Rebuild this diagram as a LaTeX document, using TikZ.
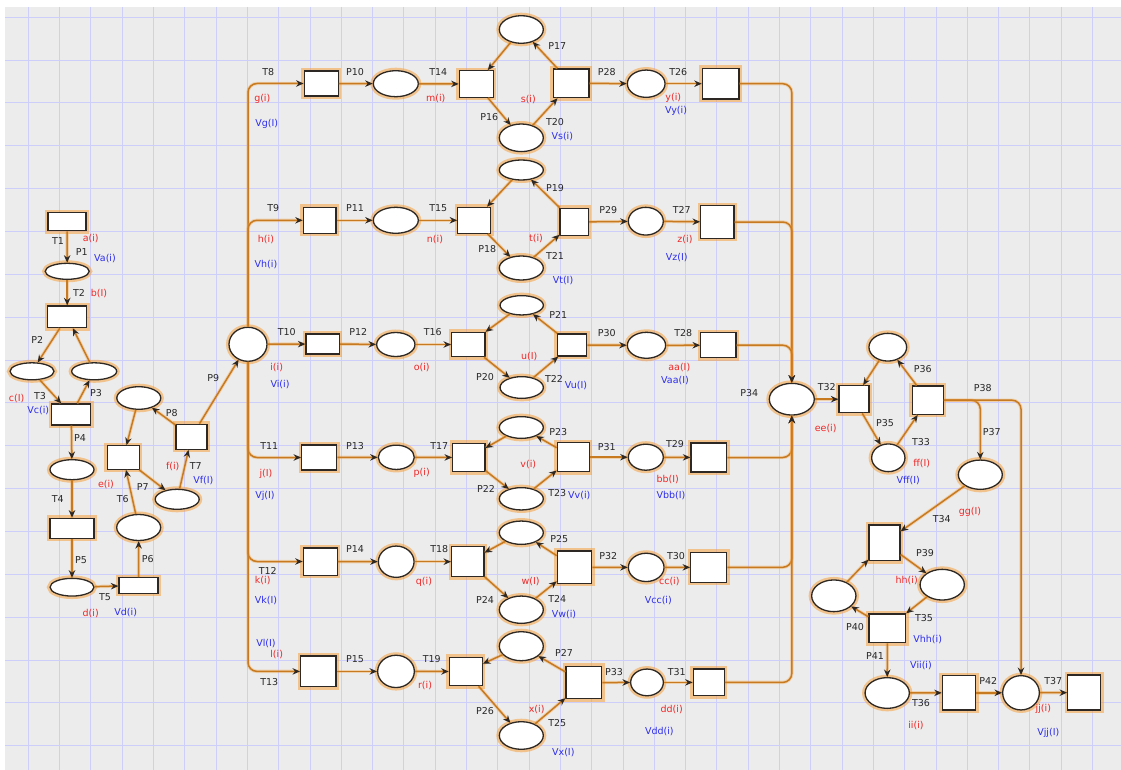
\documentclass[tikz,border=0pt]{standalone}
\usepackage{fontspec}
\setmainfont{DejaVu Sans}
\usetikzlibrary{shapes.geometric,arrows.meta}

\definecolor{bgc}{RGB}{236,236,236}
\definecolor{gridc}{RGB}{206,206,250}
\definecolor{arcc}{RGB}{200,122,32}
\definecolor{glowc}{RGB}{246,160,60}
\definecolor{edgec}{RGB}{45,40,35}
\definecolor{lblred}{RGB}{238,40,40}
\definecolor{lblblue}{RGB}{45,45,238}
\definecolor{lblblk}{RGB}{40,40,40}

\tikzset{
  glow/.style={preaction={draw=glowc,line width=6pt,opacity=0.55}},
  pnode/.style={ellipse,draw=edgec,line width=1.3pt,fill=white,inner sep=0pt,glow},
  tnode/.style={rectangle,draw=edgec,line width=1.3pt,fill=white,inner sep=0pt,glow},
  conn/.style={draw=arcc,line width=1.5pt,rounded corners=9pt,
    preaction={draw=glowc,line width=3.4pt,opacity=0.35,-},
    -{Stealth[length=7.5pt,width=6.5pt,inset=2.5pt,color=edgec]}},
  lb/.style={font=\fontsize{9.5}{10}\selectfont,text=lblblk,inner sep=0pt},
  lbr/.style={lb,text=lblred},
  lbb/.style={lb,text=lblblue},
}

\newcommand\mkP[5]{\node[pnode,minimum width=#4pt,minimum height=#5pt] (#1) at (#2,#3) {};}
\newcommand\mkT[5]{\node[tnode,minimum width=#4pt,minimum height=#5pt] (#1) at (#2,#3) {};}
\newcounter{labn}
\newcommand\lK[3]{\stepcounter{labn}\node[lb] (lab\thelabn) at (#1,#2) {#3};}
\newcommand\lR[3]{\stepcounter{labn}\node[lbr] (lab\thelabn) at (#1,#2) {#3};}
\newcommand\lB[3]{\stepcounter{labn}\node[lbb] (lab\thelabn) at (#1,#2) {#3};}

\begin{document}
\begin{tikzpicture}[x=1pt,y=-1pt]
\useasboundingbox (0,0) rectangle (1121,770);
% canvas and grid
\fill[white] (0,0) rectangle (1121,770);
\fill[bgc] (5,7) rectangle (1121,770);
\foreach \i in {0,...,35} \draw[gridc,line width=1pt] (28.3+31.3*\i,7) -- (28.3+31.3*\i,770);
\foreach \j in {0,...,17} \draw[gridc,line width=1pt] (5,17.3+42.85*\j) -- (1121,17.3+42.85*\j);

% ---------- left chain ----------
\mkT{t1}{67}{221.7}{38}{18}
\mkP{p1}{67.2}{271.3}{44}{16}
\mkT{t2}{67.2}{316.8}{39}{21.7}
\mkP{p2}{32}{371.3}{44}{17}
\mkP{p3}{94.2}{371.3}{45}{17}
\mkT{t3}{71.3}{414.5}{39}{21}
\mkP{p4}{72}{469.7}{44}{20}
\mkT{t4}{72}{528.3}{44}{20}
\mkP{p5}{72}{587.2}{44}{17.7}
\mkT{t5}{138.5}{585.5}{39}{15.7}
\mkP{p6}{138.7}{527.5}{44}{26}
\mkT{t6}{123.3}{457.5}{32}{23.6}
\mkP{p7}{177.2}{499.3}{44}{20}
\mkT{t7}{191.5}{436.8}{31}{25}
\mkP{p8}{138.8}{398}{44}{22.6}
\mkP{p9}{248}{344.3}{38}{34}

% ---------- row 1 ----------
\mkT{t8}{321.2}{83.5}{34}{25}
\mkP{p10}{395.8}{83.7}{45}{26}
\mkT{t14}{476.3}{84}{34}{26.6}
\mkP{p17}{521.3}{29.5}{44}{27.6}
\mkP{p16}{521.3}{137.8}{44}{27.6}
\mkT{t20}{571.2}{83.3}{35.7}{28.7}
\mkP{p28}{646.2}{83.7}{37.7}{27.3}
\mkT{t26}{720.7}{83.7}{36.7}{30.7}
% ---------- row 2 ----------
\mkT{t9}{319.7}{220.3}{32.7}{26}
\mkP{p11}{395.8}{220.3}{45}{26}
\mkT{t15}{474.3}{220.3}{33}{26}
\mkP{p19}{521.3}{170}{44}{20}
\mkP{p18}{521.3}{268}{44}{24}
\mkT{t21}{574.2}{222}{28.3}{27.3}
\mkP{p29}{645.8}{221.2}{35}{27.7}
\mkT{t27}{717.3}{222}{33.3}{32.6}
% ---------- row 3 ----------
\mkT{t10}{322.7}{344}{33.3}{20}
\mkP{p12}{395.8}{344.5}{38.3}{24}
\mkT{t16}{468.3}{344.5}{33.3}{24.3}
\mkP{p21}{521.7}{305.3}{43.3}{19.3}
\mkP{p20}{521.7}{387.5}{43.3}{21.7}
\mkT{t22}{572}{345}{29.3}{22}
\mkP{p30}{646.5}{345.3}{38.3}{26}
\mkT{t28}{718.3}{345.2}{35.3}{25}
% ---------- row 4 ----------
\mkT{t11}{319.2}{457.5}{35}{25}
\mkP{p13}{396.3}{457.3}{36}{24.3}
\mkT{t17}{468.8}{457.5}{32.3}{28.3}
\mkP{p23}{521.3}{427.5}{44}{21.7}
\mkP{p22}{521.3}{498.8}{44}{22.3}
\mkT{t23}{573.3}{457.2}{32}{29}
\mkP{p31}{645.8}{457.2}{35}{26}
\mkT{t29}{708.8}{457.5}{35.7}{29}
% ---------- row 5 ----------
\mkT{t12}{320.3}{561.5}{34}{27.3}
\mkP{p14}{396.2}{561.7}{35.7}{31.3}
\mkT{t18}{467.8}{561.7}{32.3}{30}
\mkP{p25}{521.3}{532.7}{44}{23.3}
\mkP{p24}{521.3}{609.7}{44}{27.3}
\mkT{t24}{574.5}{567.2}{34.3}{32.3}
\mkP{p32}{646.2}{567.4}{35.7}{28.3}
\mkT{t30}{708.7}{567.3}{36}{30}
% ---------- row 6 ----------
\mkT{t13}{318.3}{671.4}{35.3}{30.7}
\mkP{p15}{396}{671.4}{36.7}{32.3}
\mkT{t19}{465.8}{671.5}{33}{28.3}
\mkP{p27}{521.3}{646.2}{44}{29}
\mkP{p26}{521.3}{735.5}{44}{27.6}
\mkT{t25}{583.8}{682.6}{35.7}{32.3}
\mkP{p33}{647}{682.4}{32.7}{26.7}
\mkT{t31}{708.8}{682.4}{31}{26.7}
% ---------- right part ----------
\mkP{p34}{791.8}{399.2}{45}{31.7}
\mkT{t32}{854}{399.2}{30}{27}
\mkP{p36}{887.8}{347.2}{37.7}{27.7}
\mkP{p35}{888.3}{457.8}{33.3}{27.7}
\mkT{t33}{927.8}{400.2}{31}{28.3}
\mkP{p37}{980.3}{474.7}{44}{29.3}
\mkT{t34}{884.5}{542.8}{31}{35.7}
\mkP{p39}{942.2}{584.7}{44.3}{30.7}
\mkP{p40}{833.8}{595.8}{44.3}{31.7}
\mkT{t35}{887.3}{628.3}{36.7}{28.7}
\mkP{p41}{887.2}{693}{44.3}{30.7}
\mkT{t36}{959}{692.8}{33.3}{34.3}
\mkP{p42}{1021}{692.8}{36.7}{34.3}
\mkT{t37}{1084.2}{692.6}{33}{35}

% ---------- arcs: left chain ----------
\draw[conn] (t1) -- (p1);
\draw[conn] (p1) -- (t2);
\draw[conn] (t2) -- (p2);
\draw[conn] (p3) -- (t2);
\draw[conn] (p2) -- (t3);
\draw[conn] (t3) -- (p3);
\draw[conn] (t3) -- (p4);
\draw[conn] (p4) -- (t4);
\draw[conn] (t4) -- (p5);
\draw[conn] (p5) -- (t5);
\draw[conn] (t5) -- (p6);
\draw[conn] (p6) -- (t6);
\draw[conn] (t6) -- (p7);
\draw[conn] (p7) -- (t7);
\draw[conn] (t7) -- (p8);
\draw[conn] (p8) -- (t6);
\draw[conn] (t7) -- (p9);

% ---------- arcs: fan-out from P9 ----------
\draw[conn] (p9) |- (t8);
\draw[conn] (p9) |- (t9);
\draw[conn] (p9) -- (t10);
\draw[conn] (p9) |- (t11);
\draw[conn] (p9) |- (t12);
\draw[conn] (p9) |- (t13);

% ---------- arcs: six parallel branches ----------
\foreach \ta/\pa/\tb/\pu/\pd/\tc/\pb/\td in {
  t8/p10/t14/p17/p16/t20/p28/t26,
  t9/p11/t15/p19/p18/t21/p29/t27,
  t10/p12/t16/p21/p20/t22/p30/t28,
  t11/p13/t17/p23/p22/t23/p31/t29,
  t12/p14/t18/p25/p24/t24/p32/t30,
  t13/p15/t19/p27/p26/t25/p33/t31}{
  \draw[conn] (\ta) -- (\pa);
  \draw[conn] (\pa) -- (\tb);
  \draw[conn] (\tb) -- (\pd);
  \draw[conn] (\pd) -- (\tc);
  \draw[conn] (\tc) -- (\pu);
  \draw[conn] (\pu) -- (\tb);
  \draw[conn] (\tc) -- (\pb);
  \draw[conn] (\pb) -- (\td);
  \draw[conn] (\td) -| (p34);
}

% ---------- arcs: right part ----------
\draw[conn] (p34) -- (t32);
\draw[conn] (t32) -- (p35);
\draw[conn] (p35) -- (t33);
\draw[conn] (t33) -- (p36);
\draw[conn] (p36) -- (t32);
\draw[conn] (t33) -| (p37);
\draw[conn] (t33) -| (p42);
\draw[conn] (p37) -- (t34);
\draw[conn] (t34) -- (p39);
\draw[conn] (p39) -- (t35);
\draw[conn] (t35) -- (p40);
\draw[conn] (p40) -- (t34);
\draw[conn] (t35) -- (p41);
\draw[conn] (p41) -- (t36);
\draw[conn] (t36) -- (p42);
\draw[conn] (p42) -- (t37);

% ---------- labels: left chain ----------
\lK{58}{240.7}{T1} \lR{90.7}{239}{a(i)} \lK{81.7}{252.3}{P1} \lB{105}{259}{Va(i)}
\lK{79}{293.3}{T2} \lR{99}{293.3}{b(I)}
\lK{37.3}{340}{P2}
\lR{16.7}{399}{c(I)} \lK{40}{395.7}{T3} \lB{38.3}{410.7}{Vc(i)} \lK{96}{393.3}{P3}
\lK{80}{438.3}{P4} \lK{57.7}{499.3}{T4} \lK{81}{560}{P5}
\lK{105}{596.7}{T5} \lR{90.7}{613.3}{d(i)} \lB{125.7}{612.3}{Vd(i)}
\lK{147.7}{559.3}{P6} \lK{122.7}{499.3}{T6} \lR{106}{484.3}{e(i)} \lK{142.7}{487.3}{P7}
\lR{172.7}{466.7}{f(i)} \lK{195.7}{465.7}{T7} \lB{203.3}{481}{Vf(I)}
\lK{171.7}{412.7}{P8} \lK{213.3}{377.7}{P9}

% ---------- labels: row 1 ----------
\lK{268.3}{71.7}{T8} \lR{262.3}{99.3}{g(i)} \lB{266.7}{124.3}{Vg(I)}
\lK{355}{71.7}{P10} \lK{438.3}{71.7}{T14} \lR{435.7}{99}{m(i)}
\lK{489.3}{116.7}{P16} \lK{557.3}{46}{P17} \lR{528.3}{99.3}{s(i)}
\lK{555}{121.7}{T20} \lB{562.3}{136.7}{Vs(i)}
\lK{606.7}{71.7}{P28} \lK{678.3}{71.7}{T26} \lR{673.3}{98.3}{y(i)} \lB{676}{111}{Vy(i)}
% ---------- labels: row 2 ----------
\lK{273.3}{208.3}{T9} \lR{266}{239.3}{h(i)} \lB{266}{265}{Vh(i)}
\lK{355}{208.3}{P11} \lK{438.3}{208.3}{T15} \lR{435}{239.3}{n(i)}
\lK{487.3}{249.3}{P18} \lK{555}{187.7}{P19} \lR{536}{238.3}{t(i)}
\lK{555}{256}{T21} \lB{563}{281}{Vt(I)}
\lK{608.3}{210}{P29} \lK{681.7}{210}{T27} \lR{685}{239.3}{z(i)} \lB{676.7}{257.7}{Vz(I)}
% ---------- labels: row 3 ----------
\lK{286.7}{332.3}{T10} \lR{276.7}{367.3}{i(i)} \lB{280}{384.3}{Vi(i)}
\lK{358.3}{332.3}{P12} \lK{432.7}{332.3}{T16} \lR{421.7}{367.3}{o(i)}
\lK{485}{377.3}{P20} \lK{558.3}{315}{P21} \lR{529.3}{356.7}{u(I)}
\lK{554}{379.3}{T22} \lB{576}{386}{Vu(I)}
\lK{606.7}{333.3}{P30} \lK{683.3}{333.3}{T28} \lR{679.3}{367.3}{aa(I)} \lB{675}{381}{Vaa(I)}
\lK{749.3}{393.3}{P34}
% ---------- labels: row 4 ----------
\lK{269.3}{445.7}{T11} \lR{266}{474}{j(I)} \lB{265}{496}{Vj(I)}
\lK{355}{445.7}{P13} \lK{439.3}{445.7}{T17} \lR{421.7}{473.3}{p(i)}
\lK{486}{489.3}{P22} \lK{558.3}{431.7}{P23} \lR{528.3}{464.3}{v(i)}
\lK{557.3}{492.7}{T23} \lB{579.3}{496}{Vv(i)}
\lK{606.7}{446.7}{P31} \lK{675}{444}{T29} \lR{667.7}{480}{bb(I)} \lB{671}{495.7}{Vbb(I)}
% ---------- labels: row 5 ----------
\lK{267.7}{571}{T12} \lR{262.7}{581}{k(i)} \lB{266}{601}{Vk(I)}
\lK{355}{549.3}{P14} \lK{439.3}{549.3}{T18} \lR{424}{581.7}{q(i)}
\lK{485}{600}{P24} \lK{559.3}{539.3}{P25} \lR{530.7}{581.7}{w(I)}
\lK{557.3}{599}{T24} \lB{564}{615}{Vw(i)}
\lK{608.3}{556}{P32} \lK{676}{556}{T30} \lR{669.3}{581.7}{cc(i)} \lB{658.3}{601}{Vcc(i)}
% ---------- labels: row 6 ----------
\lB{266}{643.3}{Vl(I)} \lR{276.7}{655}{l(i)} \lK{269.3}{681.7}{T13}
\lK{355}{659.3}{P15} \lK{431.7}{659.3}{T19} \lR{425}{685.7}{r(i)}
\lK{485}{710.7}{P26} \lK{564}{653.3}{P27} \lR{536.7}{709.3}{x(i)}
\lK{557.3}{723.3}{T25} \lB{563.3}{752.3}{Vx(I)}
\lK{614}{671.7}{P33} \lK{676.7}{671.7}{T31} \lR{671.7}{710}{dd(i)} \lB{659.3}{731.7}{Vdd(i)}
% ---------- labels: right part ----------
\lK{826.7}{386.7}{T32} \lR{825.7}{428.3}{ee(i)}
\lK{922.7}{369.3}{P36} \lK{885}{422.7}{P35}
\lK{921}{441.7}{T33} \lR{921.7}{463.3}{ff(I)} \lB{908.3}{480.7}{Vff(I)}
\lK{982.7}{388.3}{P38} \lK{991.7}{431.7}{P37}
\lR{970}{511.7}{gg(I)} \lK{941.7}{519.3}{T34}
\lK{925}{552.7}{P39} \lR{906.7}{581}{hh(i)}
\lK{924}{618.3}{T35} \lB{927.7}{639.3}{Vhh(i)}
\lK{855}{626.7}{P40} \lK{875}{655.7}{P41} \lB{921}{666}{Vii(i)}
\lK{921}{702.7}{T36} \lR{916}{726}{ii(i)}
\lK{988.3}{681}{P42} \lK{1053.3}{681}{T37}
\lR{1043.3}{709.3}{jj(i)} \lB{1048.3}{733.3}{Vjj(I)}
\end{tikzpicture}
\end{document}
